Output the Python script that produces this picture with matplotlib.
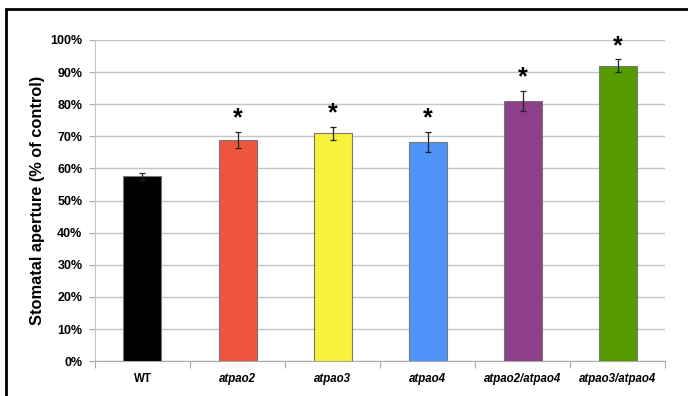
import matplotlib
matplotlib.use("Agg")
import matplotlib.pyplot as plt
from matplotlib.patches import Rectangle
from matplotlib.ticker import FuncFormatter, MultipleLocator
import numpy as np

plt.rcParams["font.family"] = ["Liberation Sans", "DejaVu Sans"]

lines = ["WT", "atpao2", "atpao3", "atpao4", "atpao2/atpao4", "atpao3/atpao4"]
aperture = [57.5, 69.0, 71.0, 68.3, 81.0, 92.0]
err = [1.0, 2.5, 2.0, 3.2, 3.1, 2.0]
significant = [False, True, True, True, True, True]
colors = ["#000000", "#EE5541", "#F8F23A", "#4F94F8", "#8E3F8A", "#559B00"]

fig = plt.figure(figsize=(6.88, 3.96), dpi=100)
ax = fig.add_axes([0.138, 0.088, 0.829, 0.811])

x = np.arange(len(lines))
ax.bar(x, aperture, width=0.4, color=colors, edgecolor="#777777", linewidth=0.8, zorder=3)
ax.errorbar(x, aperture, yerr=err, fmt="none", ecolor="#222222", elinewidth=0.9,
            capsize=2.5, capthick=0.9, zorder=4)

for xi, v, e, s in zip(x, aperture, err, significant):
    if s:
        ax.text(xi, v + e + 0.4, "*", ha="center", va="bottom", fontsize=18,
                fontweight="bold", zorder=5)

ax.set_xlim(-0.5, len(lines) - 0.5)
ax.set_ylim(0, 100)
ax.yaxis.set_major_locator(MultipleLocator(10))
ax.yaxis.set_major_formatter(FuncFormatter(lambda v, _: f"{v:.0f}%"))
ax.grid(axis="y", color="#c4c4c4", linewidth=1, zorder=0)

# category labels at bar centres, tick marks on the boundaries
ax.set_xticks(np.arange(-0.5, len(lines)), minor=False)
ax.set_xticklabels([])
ax.tick_params(axis="x", length=5, color="#aaaaaa", width=0.8)
for xi, name in zip(x, lines):
    ax.text(xi, -5.6, name, ha="center", va="center", fontsize=8.3,
            fontweight="bold", style="normal" if name == "WT" else "italic",
            transform=ax.transData)

ax.tick_params(axis="y", length=4, color="#aaaaaa", width=0.8, labelsize=9, pad=5)
for lab in ax.get_yticklabels():
    lab.set_fontweight("bold")

for side in ["top", "right"]:
    ax.spines[side].set_visible(False)
ax.spines["left"].set_color("#c4c4c4")
ax.spines["bottom"].set_color("#aaaaaa")

ax.set_ylabel("Stomatal aperture (% of control)", fontsize=11.8, fontweight="bold", labelpad=4)

# outer frame around the figure
fig.patches.append(Rectangle((6 / 688, -0.05), 1.1, 1 - 9 / 396 + 0.05,
                             transform=fig.transFigure, fill=False,
                             edgecolor="black", linewidth=2))

fig.savefig("out.png", dpi=100)
plt.close(fig)
